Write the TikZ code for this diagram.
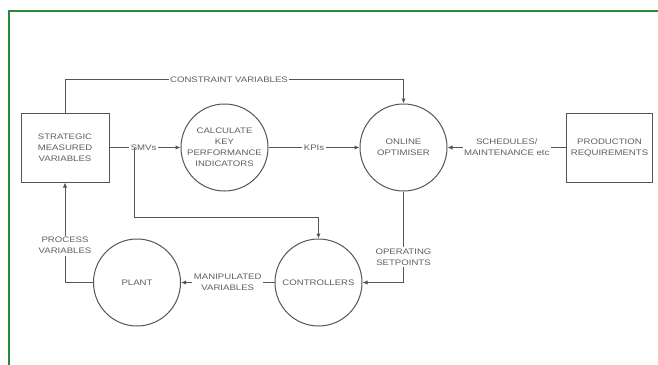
\documentclass[tikz,border=0pt]{standalone}
\usepackage{fontspec}
\newfontfamily\labfont[FakeStretch=1.2]{Liberation Sans}
\usetikzlibrary{arrows.meta}
\definecolor{framegreen}{HTML}{2A8A3A}
\definecolor{linegrey}{HTML}{555555}
\definecolor{textgrey}{HTML}{606060}
\tikzset{
  every node/.style={font=\labfont\fontsize{8}{11}\selectfont, text=textgrey, align=center},
  boxnode/.style={draw=linegrey, line width=1pt, minimum width=88pt, minimum height=69pt, inner sep=0pt},
  circnode/.style={draw=linegrey, line width=1pt, circle, minimum size=87pt, inner sep=0pt},
  conn/.style={draw=linegrey, line width=1pt, -{Latex[length=5pt,width=4.5pt]}},
  lab/.style={fill=white, inner sep=1.5pt}
}
\begin{document}
\begin{tikzpicture}[x=1pt,y=-1pt]
\useasboundingbox (0,0) rectangle (658,364);
\fill[white] (0,0) rectangle (658,364);
\draw[framegreen, line width=2pt] (8.5,366) -- (8.5,10.5) -- (660,10.5);

\node[boxnode] (smv) at (65,147.5) {STRATEGIC\\MEASURED\\VARIABLES};
\node[circnode] (kpi) at (224.5,147.5) {CALCULATE\\KEY\\PERFORMANCE\\INDICATORS};
\node[circnode] (opt) at (403.5,147.5) {ONLINE\\OPTIMISER};
\node[boxnode, minimum width=86pt] (prod) at (609.5,147.5) {PRODUCTION\\REQUIREMENTS};
\node[circnode] (plant) at (137,282.5) {PLANT};
\node[circnode] (ctrl) at (318.5,282.5) {CONTROLLERS};

% constraint variables
\draw[conn] (smv.north) -- ++(0,-33) -| (opt.north);
\node[lab] (cvlab) at (229,80) {CONSTRAINT VARIABLES};

% SMVs
\draw[conn] (smv.east) -- node[lab, pos=0.48] (smvlab) {SMVs} (kpi.west);
\coordinate (br) at (134,147.5);
\draw[conn] (br) -- (134,217) -| (ctrl.north);

% KPIs
\draw[conn] (kpi.east) -- node[lab] (kpilab) {KPIs} (opt.west);

% schedules
\draw[conn] (prod.west) -- node[lab] (schlab) {SCHEDULES/\\MAINTENANCE etc} (opt.east);

% operating setpoints
\draw[conn] (opt.south) |- node[lab, pos=0.36] (oplab) {OPERATING\\SETPOINTS} (ctrl.east);

% manipulated variables
\draw[conn] (ctrl.west) -- node[lab] (mvlab) {MANIPULATED\\VARIABLES} (plant.east);

% process variables
\draw[conn] (plant.west) -| node[lab, pos=0.684] (pvlab) {PROCESS\\VARIABLES} (smv.south);
\end{tikzpicture}
\end{document}
